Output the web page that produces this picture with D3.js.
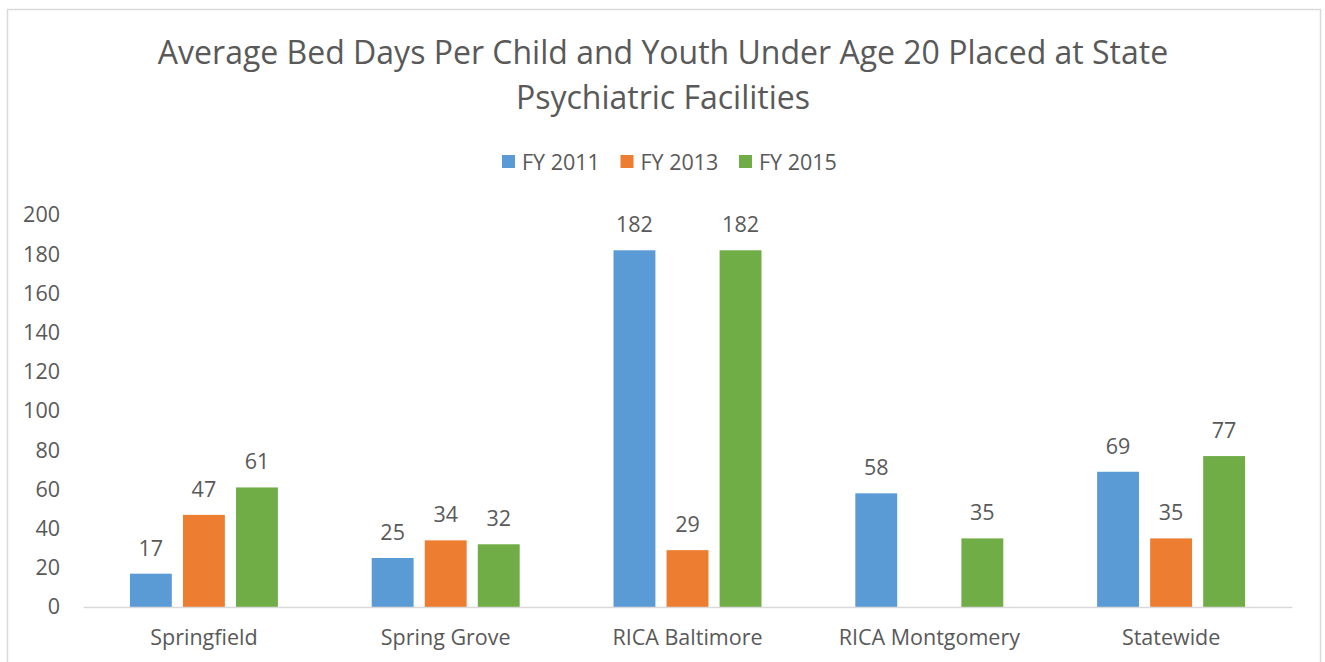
<!DOCTYPE html>
<html>
<head>
<meta charset="utf-8">
<script src="https://d3js.org/d3.v7.min.js"></script>
<style>
  body { margin: 0; background: #fff; }
  text { font-family: "Open Sans", sans-serif; fill: #595959; }
</style>
</head>
<body>
<script>
var width = 1325;
var height = 662;

// chart data
var categories = ["Springfield", "Spring Grove", "RICA Baltimore", "RICA Montgomery", "Statewide"];
var seriesNames = ["FY 2011", "FY 2013", "FY 2015"];
var fy2011 = [17, 25, 182, 58, 69];
var fy2013 = [47, 34, 29, null, 35];
var fy2015 = [61, 32, 182, 35, 77];
var yTicks = [0, 20, 40, 60, 80, 100, 120, 140, 160, 180, 200];
var titleLines = ["Average Bed Days Per Child and Youth Under Age 20 Placed at State", "Psychiatric Facilities"];

var colors = ["#5B9BD5", "#ED7D31", "#70AD47"];
var allSeries = [fy2011, fy2013, fy2015];
var fs = 21.5;

var svg = d3.select("body")
  .append("svg")
  .attr("width", width)
  .attr("height", height);

// chart frame
svg.append("rect")
  .attr("x", 7.5)
  .attr("y", 9.5)
  .attr("width", 1313)
  .attr("height", 670)
  .attr("fill", "#fff")
  .attr("stroke", "#D9D9D9")
  .attr("stroke-width", 1.5);

// title
svg.selectAll(".title")
  .data(titleLines)
  .enter()
    .append("text")
    .attr("class", "title")
    .attr("x", 663)
    .attr("y", function(d, i) { return 64 + i * 45; })
    .attr("text-anchor", "middle")
    .attr("font-size", 32)
    .text(function(d) { return d; });

// legend
var legend = svg.append("g")
  .attr("transform", "translate(502,162)");

var items = legend.selectAll("g")
  .data(seriesNames)
  .enter()
    .append("g")
    .attr("transform", function(d, i) { return "translate(" + (i * 118.5) + ",0)"; });

items.append("rect")
  .attr("x", 0)
  .attr("y", -7)
  .attr("width", 13)
  .attr("height", 13)
  .attr("fill", function(d, i) { return colors[i]; });

items.append("text")
  .attr("x", 20)
  .attr("y", 7.5)
  .attr("font-size", fs)
  .text(function(d) { return d; });

// scales
var y = d3.scaleLinear()
  .domain([0, 200])
  .range([607, 215]);

var x0 = d3.scaleBand()
  .domain(categories)
  .range([83, 1292])
  .paddingInner(0.388)
  .paddingOuter(0.194);

var x1 = d3.scaleBand()
  .domain(d3.range(seriesNames.length))
  .range([0, x0.bandwidth()])
  .paddingInner(0.21);

// y axis (labels only)
var yAxis = svg.append("g")
  .attr("transform", "translate(83,0)")
  .call(d3.axisLeft(y).tickValues(yTicks).tickSize(0).tickPadding(23));
yAxis.select(".domain").remove();
yAxis.selectAll("text")
  .attr("font-size", fs)
  .attr("font-family", "Open Sans")
  .attr("fill", "#595959");

// bars
var groups = svg.selectAll(".grp")
  .data(categories)
  .enter()
    .append("g")
    .attr("class", "grp")
    .attr("transform", function(d) { return "translate(" + x0(d) + ",0)"; });

var cells = groups.selectAll(".bar")
  .data(function(d, ci) {
    return allSeries.map(function(s, si) { return { s: si, v: s[ci] }; })
      .filter(function(e) { return e.v != null; });
  })
  .enter();

cells.append("rect")
  .attr("class", "bar")
  .attr("x", function(d) { return x1(d.s); })
  .attr("y", function(d) { return y(d.v); })
  .attr("width", x1.bandwidth())
  .attr("height", function(d) { return y(0) - y(d.v); })
  .attr("fill", function(d) { return colors[d.s]; });

cells.append("text")
  .attr("x", function(d) { return x1(d.s) + x1.bandwidth() / 2; })
  .attr("y", function(d) { return y(d.v) - 18; })
  .attr("text-anchor", "middle")
  .attr("font-size", fs)
  .text(function(d) { return d.v; });

// x axis baseline and category labels
var xAxis = svg.append("g")
  .attr("transform", "translate(0,607)")
  .call(d3.axisBottom(x0).tickSize(0).tickPadding(23));
xAxis.select(".domain")
  .attr("stroke", "#D9D9D9")
  .attr("stroke-width", 1.5);
xAxis.selectAll("text")
  .attr("font-size", fs)
  .attr("font-family", "Open Sans")
  .attr("fill", "#595959");
</script>
</body>
</html>
